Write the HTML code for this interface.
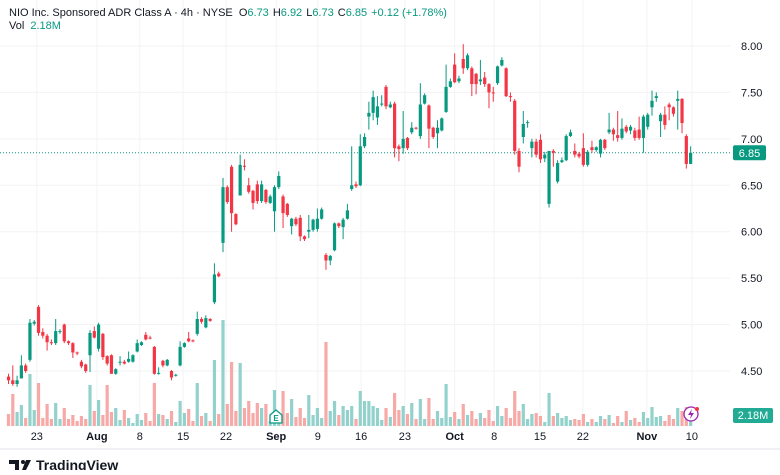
<!DOCTYPE html>
<html><head><meta charset="utf-8"><style>
html,body{margin:0;padding:0;background:#fff;}
body{width:780px;height:470px;overflow:hidden;font-family:"Liberation Sans",sans-serif;}
svg text{font-family:"Liberation Sans",sans-serif;}
</style></head><body>
<svg id="chart" width="780" height="470" viewBox="0 0 780 470" xmlns="http://www.w3.org/2000/svg">
<g id="grid"></g>
<g id="vol"></g>
<g id="candles"></g>
<g id="axis"></g>
<g id="xaxis"></g>
<text x="9" y="16" font-size="11" fill="#131722">NIO Inc. Sponsored ADR Class A · 4h · NYSE <tspan fill="#131722" dx="3">O</tspan><tspan fill="#089981">6.73</tspan><tspan dx="4">H</tspan><tspan fill="#089981">6.92</tspan><tspan dx="4">L</tspan><tspan fill="#089981">6.73</tspan><tspan dx="4">C</tspan><tspan fill="#089981">6.85</tspan><tspan dx="4" fill="#089981">+0.12 (+1.78%)</tspan></text>
<text x="9" y="29" font-size="11" fill="#131722">Vol <tspan fill="#089981" dx="3">2.18M</tspan></text>
<g><path d="M270 415 L276 410 L282 415 L282 423 L270 423 Z" fill="#fff" stroke="#089981" stroke-width="1.3"/><text x="276" y="421" font-size="8" font-weight="bold" fill="#089981" text-anchor="middle">E</text></g>
<g><circle cx="691" cy="414" r="7" fill="#fff" stroke="#9c27b0" stroke-width="1.3"/><path d="M692 409 L688 415 L691 415 L690 419 L694 413 L691 413 Z" fill="#9c27b0"/><circle cx="697" cy="409" r="2" fill="#f23645"/></g>
<line x1="0" y1="449" x2="780" y2="449" stroke="#e0e3eb" stroke-width="1"/>
<g><path d="M9 460 h10 v10 h-4 v-6 h-6 Z" fill="#131722"/><circle cx="23" cy="462" r="2" fill="#131722"/><path d="M26 460 h5 l-5 10 h-4 Z" fill="#131722"/><text x="36" y="470" font-size="14" font-weight="bold" fill="#131722">TradingView</text></g>
</svg>
<script>
const opens=[4.44,4.40,4.36,4.42,4.56,4.62,5.01,5.19,4.92,4.88,4.81,4.80,4.92,5.00,4.82,4.80,4.70,4.60,4.57,4.67,4.93,4.74,4.90,4.66,4.67,4.47,4.59,4.60,4.60,4.60,4.71,4.78,4.89,4.86,4.76,4.47,4.61,4.56,4.50,4.45,4.56,4.76,4.85,4.83,4.90,5.06,4.97,5.06,5.24,5.55,5.88,6.48,6.70,6.19,6.39,6.71,6.50,6.44,6.51,6.33,6.45,6.31,6.22,6.48,6.38,6.30,6.06,6.14,6.15,5.95,6.00,6.02,6.03,6.14,5.75,5.69,5.80,6.09,6.05,6.14,6.46,6.51,6.50,6.92,7.24,7.28,7.23,7.37,7.56,7.34,7.38,6.92,6.90,7.01,7.07,7.12,7.03,7.38,7.36,7.12,7.06,7.09,7.29,7.56,7.80,7.62,7.86,7.76,7.76,7.70,7.62,7.66,7.59,7.50,7.60,7.79,7.76,7.46,7.41,6.87,7.02,7.17,6.90,6.97,6.99,6.79,6.30,6.87,6.54,6.75,6.77,7.03,6.87,6.84,6.90,6.72,6.91,6.88,6.84,6.99,7.07,7.10,7.04,7.01,7.13,7.09,7.09,7.10,7.01,7.13,7.34,7.44,7.19,7.26,7.37,7.34,7.41,7.43,7.03,6.73];
const closes=[4.40,4.36,4.40,4.56,4.50,5.02,5.03,4.91,4.88,4.81,4.80,4.93,4.93,4.82,4.80,4.70,4.69,4.55,4.50,4.91,4.86,5.00,4.65,4.58,4.47,4.52,4.60,4.58,4.63,4.67,4.80,4.81,4.84,4.85,4.47,4.48,4.56,4.62,4.43,4.46,4.76,4.80,4.82,4.82,5.06,5.03,5.07,5.04,5.54,5.52,6.48,6.32,6.20,6.08,6.72,6.70,6.43,6.31,6.33,6.51,6.32,6.38,6.48,6.60,6.20,6.18,6.14,6.08,5.95,5.92,6.02,6.13,6.14,6.24,5.69,5.74,6.09,6.06,6.13,6.23,6.50,6.49,6.92,7.02,7.28,7.45,7.35,7.38,7.35,7.37,6.90,6.89,7.00,6.90,7.12,7.11,7.37,7.47,7.11,7.02,7.12,7.22,7.56,7.62,7.61,7.65,7.76,7.90,7.59,7.59,7.64,7.59,7.50,7.49,7.78,7.85,7.46,7.45,6.87,6.70,7.16,7.18,6.97,6.83,6.78,6.83,6.87,6.85,6.74,6.77,7.03,7.07,6.83,6.81,6.72,6.86,6.88,6.91,6.99,6.90,7.10,7.05,7.01,7.11,7.08,7.13,7.01,7.01,7.24,7.26,7.41,7.46,7.26,7.15,7.34,7.27,7.43,7.17,6.73,6.85];
const highs=[4.47,4.56,4.45,4.67,4.58,5.06,5.05,5.21,4.96,4.90,4.84,5.06,4.95,5.01,4.83,4.81,4.71,4.62,4.58,4.94,4.98,5.02,4.91,4.67,4.68,4.53,4.66,4.62,4.71,4.68,4.84,4.82,4.92,4.88,4.77,4.54,4.62,4.63,4.51,4.47,4.82,4.81,4.92,4.84,5.14,5.08,5.10,5.07,5.66,5.57,6.58,6.50,6.72,6.20,6.83,6.78,6.58,6.45,6.55,6.55,6.46,6.40,6.50,6.65,6.40,6.31,6.15,6.16,6.18,5.96,6.18,6.14,6.25,6.26,5.77,5.75,6.10,6.10,6.15,6.30,6.92,6.54,7.05,7.06,7.40,7.52,7.46,7.47,7.58,7.40,7.40,6.94,7.30,7.02,7.18,7.13,7.60,7.49,7.37,7.13,7.20,7.23,7.80,7.65,7.92,7.68,8.02,7.92,7.78,7.71,7.85,7.72,7.60,7.56,7.79,7.88,7.77,7.50,7.43,6.90,7.30,7.20,7.00,7.00,7.05,6.86,6.87,6.89,6.77,6.80,7.05,7.10,6.95,6.86,7.06,6.88,6.98,6.92,7.00,7.00,7.28,7.12,7.30,7.22,7.15,7.15,7.12,7.24,7.26,7.28,7.52,7.50,7.28,7.35,7.39,7.35,7.52,7.44,7.05,6.92];
const lows=[4.36,4.34,4.33,4.42,4.48,4.60,4.99,4.88,4.85,4.72,4.78,4.78,4.90,4.80,4.78,4.64,4.67,4.53,4.48,4.49,4.85,4.71,4.62,4.56,4.47,4.46,4.56,4.57,4.59,4.59,4.70,4.77,4.83,4.84,4.46,4.46,4.54,4.55,4.40,4.44,4.55,4.75,4.81,4.81,4.88,5.01,4.96,5.03,5.22,5.51,5.78,6.30,6.00,6.07,6.39,6.66,6.41,6.24,6.30,6.31,6.30,6.30,6.00,6.46,6.04,6.16,5.97,6.06,5.90,5.90,5.93,6.00,6.00,6.13,5.59,5.64,5.79,6.04,5.92,6.13,6.44,6.47,6.49,6.90,7.10,7.20,7.15,7.35,7.32,7.33,6.80,6.76,6.84,6.88,7.05,7.10,7.00,7.37,6.90,7.00,6.90,7.08,7.28,7.55,7.60,7.60,7.70,7.74,7.46,7.48,7.58,7.56,7.33,7.40,7.58,7.78,7.45,7.40,6.83,6.64,6.95,7.12,6.80,6.80,6.74,6.75,6.26,6.70,6.52,6.74,6.76,7.02,6.80,6.79,6.70,6.70,6.85,6.86,6.80,6.88,7.05,6.98,6.97,6.99,7.06,7.05,6.98,6.99,6.85,7.10,7.25,7.40,7.02,7.10,7.20,7.24,7.10,7.06,6.68,6.73];
const volumes=[3,8,3.5,5.25,2,13,4,10.75,2,5.5,1.75,5.75,1.75,4.5,1.75,2.75,1.25,2.5,1.75,10.25,3.75,6.5,2.75,10.25,3.5,4.5,1.5,4,2,0.75,3,1.5,3.25,1.25,10.75,3,2.75,1.75,3.75,1,6.25,3.25,4.25,1.25,10.75,2.5,3.25,1.25,16.5,3,26.5,5.5,16,3.75,15.75,4.5,6.25,3.25,5.75,4.5,5.5,1.25,9,2,8.75,3.25,6.75,2.25,4.5,2,7.75,2.75,4.5,2,21,3.75,6.25,2.75,5,4,5,1.75,8.75,6.25,6.25,5,4.5,1.5,4.5,2.25,8.25,4,5,3,5.75,1.75,6.75,1.75,7,1.75,3.75,2,10.5,2.25,3.5,1.75,5.5,2.75,3.75,1.75,3.25,2,4,1.25,5,2.5,4.5,2,8.75,3.75,5.5,1.75,3,3.25,2.5,1,8.25,2.5,3.25,2,2.5,1.5,1.75,1.5,3,1,1.75,1,2.5,1.75,2.75,0.75,2.5,1,3.75,1.5,2,1,3.5,2,4.75,2.25,2.5,1.25,2.75,1.75,4.5,3.75,4.75,2.18];
const priceTicks=[8.00,7.50,7.00,6.50,6.00,5.50,5.00,4.50];
const timeLabels=["23","Aug","8","15","22","Sep","9","16","23","Oct","8","15","22","Nov","10"];
const timeLabelBars=[6.6,20.6,30.6,40.7,50.7,62.4,72.1,82.2,92.4,104,113.2,123.9,133.9,148.8,159.3];
const boldLabels=["Aug","Sep","Oct","Nov"];
const lastPrice=6.85, lastVolume="2.18M";

const NS="http://www.w3.org/2000/svg";
const X0=8.5, STEP=4.29, PLOT_R=730;
const yP=p=>46+(8-p)*92.86;
const xB=i=>X0+i*STEP;
const VOL_BASE=426, VOL_K=4;
const yV=v=>VOL_BASE-v*VOL_K;
function mk(tag,attrs,parent){const e=document.createElementNS(NS,tag);for(const k in attrs)e.setAttribute(k,attrs[k]);parent.appendChild(e);return e;}
const grid=document.getElementById('grid'),axis=document.getElementById('axis'),xaxis=document.getElementById('xaxis'),vol=document.getElementById('vol'),cg=document.getElementById('candles');

priceTicks.forEach((p)=>{
  const l=mk('line',{x1:0,x2:PLOT_R,y1:yP(p),y2:yP(p),stroke:'#f2f3f5','stroke-width':1},grid);
  
  
  const t=mk('text',{x:741,y:yP(p)+4,'font-size':11,fill:'#131722'},axis);
  
  
  t.textContent=p.toFixed(2);
});
timeLabels.forEach((s,k)=>{
  const x=xB(timeLabelBars[k]);
  const l=mk('line',{x1:x,x2:x,y1:0,y2:426,stroke:'#f2f3f5','stroke-width':1},grid);
  
  
  const t=mk('text',{x:x,y:440,'font-size':11,fill:'#131722','text-anchor':'middle','font-weight':boldLabels.includes(s)?'bold':'normal'},xaxis);
  
  
  t.textContent=s;
});
closes.forEach((c,i)=>{
  const o=opens[i],up=c>=o,x=xB(i);
  const r=mk('rect',{x:x-1.6,width:3.2,y:yV(volumes[i]),height:VOL_BASE-yV(volumes[i]),fill:up?'#93d2cc':'#f7a9a7'},vol);
  
  
  const col=up?'#089981':'#f23645';
  const w=mk('line',{x1:x,x2:x,y1:yP(highs[i]),y2:yP(lows[i]),stroke:col,'stroke-width':1},cg);
  
  
  const top=yP(Math.max(o,c)),bot=yP(Math.min(o,c));
  const b=mk('rect',{x:x-1.6,width:3.2,y:top,height:Math.max(1,bot-top),fill:col},cg);
  
  
});
const pl=mk('line',{x1:0,x2:PLOT_R,y1:yP(lastPrice),y2:yP(lastPrice),stroke:'#089981','stroke-width':1,'stroke-dasharray':'1 2'},grid);


const pb=mk('rect',{x:733,y:yP(lastPrice)-7.5,width:33,height:15,rx:2,fill:'#089981'},axis);


const pt=mk('text',{x:749.5,y:yP(lastPrice)+4,'font-size':11,fill:'#fff','text-anchor':'middle'},axis);


pt.textContent=lastPrice.toFixed(2);
const vb=mk('rect',{x:733,y:408,width:40,height:15,rx:2,fill:'#22ab94'},axis);


const vt=mk('text',{x:753,y:419,'font-size':11,fill:'#fff','text-anchor':'middle'},axis);


vt.textContent=lastVolume;
</script>
</body></html>
